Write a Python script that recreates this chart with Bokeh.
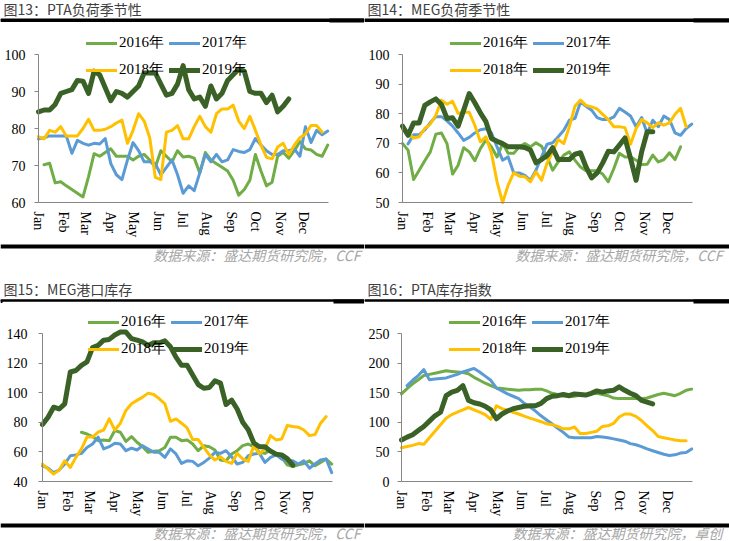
from bokeh.plotting import figure
from bokeh.models import Range1d, FixedTicker, Legend, LegendItem, Label, LinearAxis, Span
from bokeh.layouts import column, row
from bokeh.embed import file_html
from bokeh.resources import INLINE

# ---------------- data ----------------
months = ["Jan", "Feb", "Mar", "Apr", "May", "Jun", "Jul", "Aug", "Sep", "Oct", "Nov", "Dec"]
month_start_day = [0, 31, 59, 90, 120, 151, 181, 212, 243, 273, 304, 334]
years = ["2016年", "2017年", "2018年", "2019年"]
week_days = 7  # weekly observations: week index -> day of year

titles = ["图13：PTA负荷季节性", "图14：MEG负荷季节性", "图15：MEG港口库存", "图16：PTA库存指数"]
sources = ["数据来源：盛达期货研究院，CCF", "数据来源：盛达期货研究院，CCF",
           "数据来源：盛达期货研究院，CCF", "数据来源：盛达期货研究院，卓创"]

pta_load_2016 = [None, 70.2, 70.6, 65.3, 65.6, 64.5, 63.5, 62.5, 61.5, 67, 73.2, 72.5, 73.5, 74.5, 72.5, 72.5, 72.5,
                 71.5, 72.5, 73, 71.5, 69.5, 74, 72.5, 71, 74, 72.3, 72.5, 72, 68, 73.5, 71.5, 70.5, 69.5, 68.5, 66,
                 62, 63.5, 66, 73, 68.5, 64.5, 65.5, 72.5, 73.5, 72, 74, 76.5, 74.5, 74.2, 73, 72.5, 75.5]
pta_load_2017 = [77.2, 77.5, 78, 78, 78, 78, 73.3, 76.8, 76, 75.5, 76, 75.8, 77.3, 70.5, 67.5, 66.2, 71.5, 76.2, 74,
                 71, 71, 70.5, 67.5, 69.5, 71.5, 67.5, 62.5, 64.5, 63.2, 68, 73, 71, 73, 71, 71.5, 74.3, 73.8, 73.5,
                 74.3, 77.3, 75.5, 74, 73, 73, 74, 74, 74.5, 72.5, 80.5, 76.2, 79.5, 78.3, 79.3]
pta_load_2018 = [77.8, 77.2, 79.5, 79, 80.5, 78, 78, 78, 80, 82.5, 79.5, 79.5, 79.8, 80.5, 81.5, 82.3, 76, 79.5, 84,
                 82, 77.5, 66.8, 66.2, 79, 79.5, 80.8, 77.2, 77.2, 80.5, 83.3, 80.5, 79, 84, 85.3, 85.3, 86.3, 82, 80,
                 83.3, 79.5, 75.5, 72.2, 71.8, 75, 76, 73, 75.5, 77.5, 78.5, 80.8, 80.8, 79]
pta_load_2019 = [84.5, 85, 85, 86.5, 89.5, 90, 90.5, 93, 92.8, 89.5, 95.5, 94.5, 91, 87.5, 90, 89.5, 88.5, 90, 91.5,
                 95, 95, 95, 92, 89, 89.5, 92, 97, 90.5, 88, 88.5, 86, 91.5, 88, 89.5, 93, 94.5, 96, 95.5, 90, 89.5,
                 89.5, 87, 89, 84.5, 86, 88]

meg_load_2016 = [69.9, 67.7, 57.8, 60.9, 64.1, 67.1, 73.1, 73.5, 69.9, 59.6, 62.6, 68.5, 67.1, 64.1, 68.2, 71.1,
                 68.8, 65.4, 69.9, 66.6, 66.6, 68.8, 69.9, 68.8, 70.2, 69, 65.4, 60.9, 63.7, 66, 67.1, 64.3, 62,
                 60.7, 60.7, 60.7, 59.6, 57, 61.5, 66.6, 65.4, 65.4, 64.3, 62.8, 62.9, 66, 63.7, 64.5, 66.8, 64.5, 68.8]
meg_load_2017 = [None, 69.8, 72.9, 72.9, 74.5, 77, 79, 79, 77.6, 75.8, 73.5, 71, 72, 73.5, 74.6, 74.9, 73.5, 68.8,
                 64.3, 65.4, 60, 60, 59.2, 57.5, 60.9, 65.4, 69.7, 70.2, 72.2, 74.4, 77.8, 78.4, 83.9, 82.5, 81.2,
                 78.7, 78, 78, 78.9, 81.8, 80.6, 79.2, 75.6, 78.7, 73.3, 77.8, 75.6, 79.2, 78, 73.5, 72.7, 75, 76.5]
meg_load_2018 = [74.7, 73.3, 71.8, 72.2, 75, 76.5, 79.5, 84.6, 83.2, 84.2, 80.1, 80.5, 80.5, 76.1, 70.5, 72.2, 66.6,
                 57, 50, 55.9, 60, 58.9, 58.7, 57, 60.4, 57.5, 63.4, 67.1, 71.3, 69.9, 75.6, 82.5, 84.6, 82.8, 82.3,
                 81.6, 79.8, 78, 75.6, 75.6, 75.3, 69.7, 75, 78, 76.9, 75.3, 76.9, 76.1, 76.9, 79.8, 81.8, 75.6]
meg_load_2019 = [75.8, 72.7, 76.9, 76.9, 82.8, 84, 85, 83.1, 78.4, 78.6, 75.8, 81.2, 86.8, 83.7, 80.3, 77.3, 71.6,
                 70.7, 69.9, 68.8, 68.8, 68.8, 68.6, 67.7, 63.4, 64.5, 65.9, 68.5, 64.5, 64.5, 64.5, 66.3, 66.8, 62,
                 58.3, 60, 63.4, 67.3, 67.1, 69.4, 71.8, 64.9, 57.5, 67.1, 73.9, 73.9]

meg_port_2016 = [None, None, None, None, None, None, None, 73.3, 72.1, 70.3, 67.6, 68.1, 67.6, 74.4, 73.3, 67.1,
                 70.3, 66.5, 63.5, 59.7, 60.4, 60.8, 63, 69.9, 69.9, 67.6, 68.1, 65.3, 60.8, 64.2, 63.5, 61.3, 54.5,
                 54, 58.6, 60.8, 64.2, 65.3, 63.5, 59.7, 59, 61.3, 59, 56.3, 51.3, 50, 51.3, 52.2, 54, 50.6, 52.9,
                 55.2, 51.8]
meg_port_2017 = [50.6, 49, 46, 47.7, 51.8, 57.4, 58, 59, 63, 65.3, 70, 62, 63.5, 65.8, 65.3, 60.8, 62.6, 61.3, 64.2,
                 62, 59.7, 59.7, 56.3, 62, 58.6, 52.2, 54, 53.6, 50.6, 52.9, 55.8, 59.7, 59, 60.8, 56.7, 51.8, 52.9,
                 57.4, 58.6, 59, 52.9, 56.3, 58, 55.2, 54, 54, 51.8, 54, 49, 51.8, 54.5, 55.2, 46]
meg_port_2018 = [51.8, 48.4, 45, 47.7, 54, 49.5, 56.3, 62, 70, 70, 73.3, 74.8, 82.3, 74.8, 79.4, 88, 92.5, 94.8, 97,
                 99.7, 98.8, 95.9, 92.5, 80.7, 82.3, 79.4, 76.2, 68.3, 68.3, 63, 58, 54.5, 56.7, 53.6, 52.2, 59, 55.2,
                 53.6, 64.2, 58.6, 62, 71, 68.1, 68.7, 77.8, 77.1, 76.7, 74.8, 71, 71.7, 79.4, 83.9]
meg_port_2019 = [78.5, 83.4, 90.2, 89, 92.5, 114, 115, 118.5, 120.8, 130.5, 132, 135.5, 136, 139, 141, 141, 136.6,
                 135.5, 134.3, 132, 133.7, 133.7, 135, 131, 124, 118.5, 118.5, 112, 105.5, 103, 103.5, 108, 106.5, 92,
                 95, 89, 80, 75, 66, 63.5, 63.5, 60.5, 58.5, 58, 55.5, 51]

pta_inv_2016 = [148, 157, 165, 172, 179, 181, 183, 185, 187, 186, 185, 184, 182, 176, 171, 166, 162, 158, 157, 156,
                155, 154, 155, 155, 156, 156, 153, 149, 147, 145, 143, 144, 146, 147, 148, 149, 147, 145, 141, 140,
                140, 140, 140, 140, 141, 144, 147, 149, 147, 145, 149, 154, 156]
pta_inv_2017 = [None, 162, 171, 179, 189, 172, 173, 174, 175, 178, 181, 185, 188, 191, 185, 178, 171, 158, 153, 148,
                144, 140, 132, 126, 119, 111, 104, 97, 90, 83, 75, 74, 74, 74, 74, 76, 75, 74, 72, 70, 68, 64, 62,
                59, 55, 52, 49, 46, 44, 45, 48, 49, 55]
pta_inv_2018 = [57, 59, 61, 64, 63, 74, 85, 96, 107, 113, 117, 121, 125, 121, 117, 113, 105, 128, 123, 120.5, 117,
                114, 110.5, 107, 104, 101, 97.5, 96, 93, 89, 89, 92, 81, 81, 83, 85, 93, 94, 98, 109, 114, 114, 110,
                103, 94, 86, 76, 74, 72, 70, 69, 69]
pta_inv_2019 = [70, 75, 79, 86, 93, 102, 111, 117, 145, 151, 154, 162, 137, 133, 131, 127, 121, 106, 114, 119, 123,
                125, 127, 128, 128, 132, 140, 144, 145, 147, 145, 148, 147, 146, 149, 153, 151, 153, 154, 160, 154,
                149, 145, 137, 134, 131]

panel_series = [
    [pta_load_2016, pta_load_2017, pta_load_2018, pta_load_2019],
    [meg_load_2016, meg_load_2017, meg_load_2018, meg_load_2019],
    [meg_port_2016, meg_port_2017, meg_port_2018, meg_port_2019],
    [pta_inv_2016, pta_inv_2017, pta_inv_2018, pta_inv_2019],
]
y_ranges = [(60, 100), (50, 100), (40, 140), (0, 250)]
y_tick_lists = [[60, 70, 80, 90, 100], [50, 60, 70, 80, 90, 100],
                [40, 60, 80, 100, 120, 140], [0, 50, 100, 150, 200, 250]]

# ---------------- style / layout ----------------
colors = ["#70AD47", "#5B9BD5", "#FFC000", "#3B6226"]
widths = [3, 3, 3, 5]
AXIS_GREY = "#868686"
SERIF = "Liberation Serif"
CJK = "Noto Sans CJK SC"

# per panel geometry in canvas pixels (y from top)
GEOM = [
    dict(W=364, H=280, FL=38, FR=328, AT=54, FB=202, title_y=8, bar=(18, 21), thick=22,
         leg=(43, 70), leg_x=86, bb=(244, 248), src_x=360, src_y=254, ystand=9),
    dict(W=365, H=280, FL=38, FR=328, AT=54, FB=202, title_y=8, bar=(18, 21), thick=22,
         leg=(43, 70), leg_x=86, bb=(244, 248), src_x=358, src_y=254, ystand=9),
    dict(W=364, H=261, FL=42, FR=332, AT=53, FB=201, title_y=8, bar=(19, 21), thick=23,
         leg=(42, 69), leg_x=88, bb=(243, 247), src_x=360, src_y=252, ystand=11),
    dict(W=365, H=261, FL=37, FR=328, AT=53, FB=201, title_y=8, bar=(19, 21), thick=23,
         leg=(42, 69), leg_x=85, bb=(243, 247), src_x=358, src_y=252, ystand=8),
]


def make_panel(idx):
    g = GEOM[idx]
    W, H, FL, FR, AT, FB = g["W"], g["H"], g["FL"], g["FR"], g["AT"], g["FB"]
    y0, y1 = y_ranges[idx]
    kx = 365 / (FR - FL)
    ky = (y1 - y0) / (FB - AT)
    x_lo, x_hi = -FL * kx, 365 + (W - FR) * kx
    y_lo, y_hi = y0 - (H - FB) * ky, y1 + AT * ky
    p = figure(width=W, height=H, x_range=Range1d(x_lo, x_hi), y_range=Range1d(y_lo, y_hi),
               title=None, output_backend="svg", toolbar_location=None, min_border=0,
               x_axis_location=None, y_axis_location=None)
    p.grid.visible = False
    p.outline_line_color = None

    # pixel -> data helpers for the page decorations (black rules)
    def dx(px):
        return x_lo + px * kx

    def dy(py):
        return y_hi - py * ky

    # ---- axes (drawn at fixed data locations, taking no side space) ----
    xa = LinearAxis(fixed_location=y0, bounds=(0, 365), ticker=FixedTicker(ticks=month_start_day),
                    major_label_overrides={d: m for d, m in zip(month_start_day, months)},
                    major_label_orientation="vertical",
                    major_tick_out=0, major_tick_in=0, minor_tick_out=0, minor_tick_in=0,
                    axis_line_color=AXIS_GREY, major_label_text_font=SERIF,
                    major_label_text_font_size="14px", major_label_text_color="black",
                    major_label_standoff=9)
    p.add_layout(xa, "below")
    ya = LinearAxis(fixed_location=0, bounds=(y0, y1), ticker=FixedTicker(ticks=y_tick_lists[idx]),
                    major_tick_out=4, major_tick_in=0, minor_tick_out=0, minor_tick_in=0,
                    axis_line_color=AXIS_GREY, major_tick_line_color=AXIS_GREY,
                    major_label_text_font=SERIF, major_label_text_font_size="14px",
                    major_label_text_color="black", major_label_standoff=g["ystand"])
    p.add_layout(ya, "left")

    # ---- header rules: bare axis lines at fixed locations ----
    top_rules = [(0, W, g["bar"][0], g["bar"][1]), (FR + 1, W, g["bar"][0], g["thick"])]
    if idx == 2:
        top_rules.append((0, 2, g["bar"][0], g["thick"] - 1))
    for (x0, x1, t, b) in top_rules:
        rule_axis = LinearAxis(fixed_location=dy((t + b) / 2), bounds=(dx(x0), dx(x1)),
                               ticker=FixedTicker(ticks=[]), axis_line_color="black",
                               axis_line_width=b - t, axis_line_cap="butt",
                               major_tick_line_color=None, minor_tick_line_color=None,
                               major_label_text_color=None)
        p.add_layout(rule_axis, "above")
    # full-width header rule also as a span across the whole frame
    bt, bbm = g["bar"]
    p.add_layout(Span(location=dy((bt + bbm) / 2), dimension="width",
                      line_color="black", line_width=bbm - bt))

    # ---- footer rule ----
    bb = g["bb"]
    p.quad(left=[dx(0)], right=[dx(W)], top=[dy(bb[0])], bottom=[dy(bb[1])],
           fill_color="black", line_color=None)

    # ---- series ----
    rends = []
    for k, ser in enumerate(panel_series[idx]):
        xs = [i * week_days for i in range(len(ser))]
        ys = [float("nan") if v is None else v for v in ser]
        r = p.line(xs, ys, line_color=colors[k], line_width=widths[k], line_join="round", line_cap="round")
        rends.append(r)

    for (a, b), cy in (((0, 1), g["leg"][0]), ((2, 3), g["leg"][1])):
        lg = Legend(items=[LegendItem(label=years[a], renderers=[rends[a]]),
                           LegendItem(label=years[b], renderers=[rends[b]])],
                    location=(g["leg_x"], H - cy - 9), orientation="horizontal",
                    glyph_width=31, glyph_height=18, label_height=18, label_width=20,
                    label_standoff=2, spacing=5, padding=0, margin=0,
                    border_line_color=None, background_fill_alpha=0,
                    label_text_font=SERIF, label_text_font_size="15px", label_text_color="black")
        p.add_layout(lg)

    p.add_layout(Label(x=3, y=H - g["title_y"], x_units="screen", y_units="screen", text=titles[idx],
                       text_font=CJK, text_font_size="14px", text_color="#404040",
                       text_align="left", text_baseline="middle"))
    p.add_layout(Label(x=g["src_x"], y=H - g["src_y"], x_units="screen", y_units="screen", text=sources[idx],
                       text_font=CJK, text_font_size="14px", text_color="#A6A6A6", text_font_style="italic",
                       text_align="right", text_baseline="middle"))
    return p


panels = [make_panel(i) for i in range(4)]
layout = column(row(panels[0], panels[1]), row(panels[2], panels[3]))
open("out.html", "w").write(file_html(layout, INLINE))
